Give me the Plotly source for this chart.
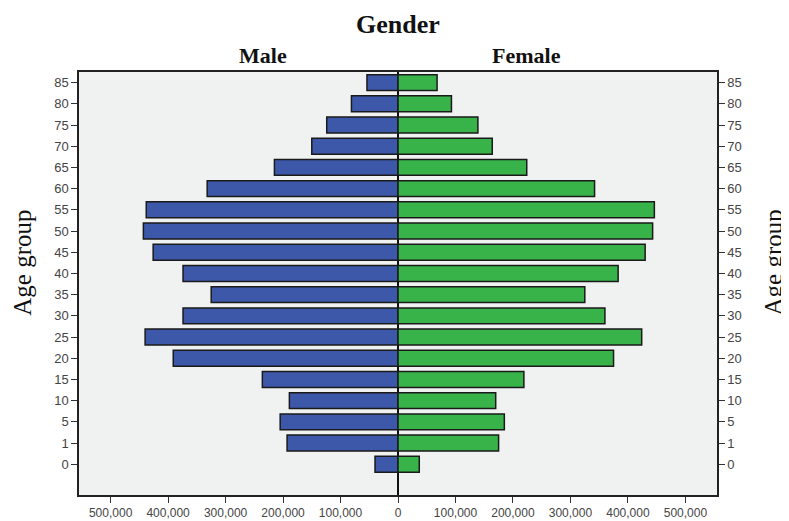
import plotly.graph_objects as go

age_groups = ["0", "1", "5", "10", "15", "20", "25", "30", "35", "40",
              "45", "50", "55", "60", "65", "70", "75", "80", "85"]
male = [40000, 193000, 205000, 189000, 236000, 391000, 440000, 374000, 325000, 374000,
        426000, 443000, 438000, 332000, 215000, 150000, 124000, 81000, 54000]
female = [37000, 175000, 185000, 170000, 219000, 375000, 424000, 360000, 325000, 383000,
          430000, 443000, 446000, 342000, 224000, 164000, 139000, 93000, 68000]
x_tick_values = [-500000, -400000, -300000, -200000, -100000, 0,
                 100000, 200000, 300000, 400000, 500000]
x_tick_labels = ["500,000", "400,000", "300,000", "200,000", "100,000", "0",
                 "100,000", "200,000", "300,000", "400,000", "500,000"]

idx = list(range(len(age_groups)))
edge = dict(color="#1a1a1a", width=1.5)

fig = go.Figure()
fig.add_trace(go.Bar(y=idx, x=[-v for v in male], orientation="h",
                     marker=dict(color="#3D58A9", line=edge), yaxis="y",
                     name="Male", showlegend=False, hoverinfo="skip"))
fig.add_trace(go.Bar(y=idx, x=female, orientation="h",
                     marker=dict(color="#38B34A", line=edge), yaxis="y2",
                     name="Female", showlegend=False, hoverinfo="skip"))

tickfont = dict(family="Liberation Sans, Arial, sans-serif", size=13, color="#444444")
xtickfont = dict(family="Liberation Sans, Arial, sans-serif", size=12, color="#444444")
serif = "Liberation Serif, Times New Roman, serif"
yrange = [-1.45, 18.5]
fig.update_layout(
    width=781, height=513,
    margin=dict(l=71, r=72, t=64, b=26, autoexpand=False),
    paper_bgcolor="white", plot_bgcolor="#F0F2F1",
    barmode="overlay", bargap=0.25,
    xaxis=dict(range=[-555000, 555000], tickvals=x_tick_values, ticktext=x_tick_labels,
               ticks="outside", ticklen=6, tickcolor="#333", tickfont=xtickfont,
               automargin=False,
               showgrid=False, zeroline=True, zerolinecolor="#111", zerolinewidth=2,
               showline=True, linecolor="#222", linewidth=1.5, mirror=True, fixedrange=True),
    yaxis=dict(range=yrange, tickvals=idx, ticktext=age_groups, ticks="outside", ticklen=6,
               tickcolor="#333", tickfont=tickfont, showgrid=False, zeroline=False,
               automargin=False,
               showline=True, linecolor="#222", linewidth=1.5, mirror=True),
    yaxis2=dict(range=yrange, tickvals=idx, ticktext=age_groups, ticks="outside", ticklen=6,
                tickcolor="#333", tickfont=tickfont, showgrid=False, zeroline=False,
                automargin=False,
                overlaying="y", side="right", showline=True, linecolor="#222", linewidth=1.5),
    annotations=[
        dict(text="<b>Gender</b>", x=0.5, xref="paper", y=1.0, yref="paper", showarrow=False,
             yanchor="middle", yshift=48,
             font=dict(family=serif, size=26, color="#111")),
        dict(text="<b>Male</b>", x=0.248, xref="paper", y=1.0, yref="paper", showarrow=False,
             yanchor="middle", yshift=17,
             font=dict(family=serif, size=22, color="#111")),
        dict(text="<b>Female</b>", x=0.758, xref="paper", y=1.0, yref="paper", showarrow=False,
             yanchor="middle", yshift=17,
             font=dict(family=serif, size=22, color="#111")),
        dict(text="Age group", x=-0.0887, xref="paper", y=0.55, yref="paper", showarrow=False,
             textangle=-90, xanchor="center", yanchor="middle",
             font=dict(family=serif, size=25, color="#111")),
        dict(text="Age group", x=1.088, xref="paper", y=0.55, yref="paper", showarrow=False,
             textangle=-90, xanchor="center", yanchor="middle",
             font=dict(family=serif, size=25, color="#111")),
    ],
)

fig.write_html("out.html")
